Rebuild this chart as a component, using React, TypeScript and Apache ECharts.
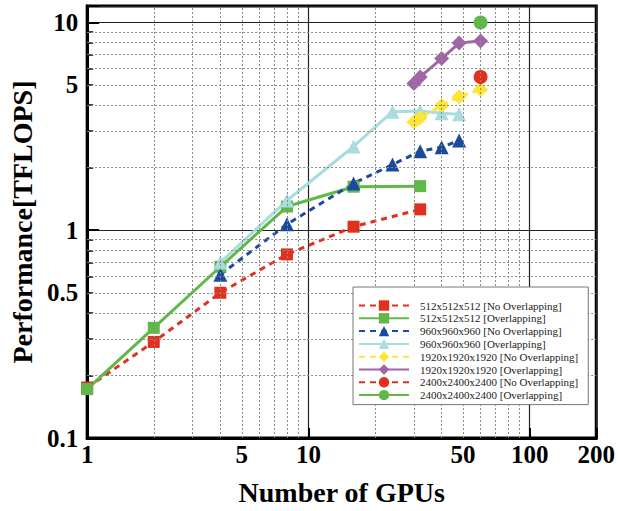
import React, { useEffect, useRef } from "react";
import * as echarts from "echarts";

const xTickLabels = [1, 5, 10, 50, 100, 200];
const yTickLabels = [0.1, 0.5, 1, 5, 10];
const xMinorGrid = [2, 3, 4, 5, 6, 7, 8, 9, 20, 30, 40, 50, 60, 70, 80, 90];
const yMinorGrid = [0.2, 0.3, 0.4, 0.5, 0.6, 0.7, 0.8, 0.9, 2, 3, 4, 5, 6, 7, 8, 9];

const gpus512 = [1, 2, 4, 8, 16, 32];
const no512 = [0.175, 0.29, 0.5, 0.765, 1.04, 1.26];
const over512 = [0.172, 0.339, 0.667, 1.3, 1.62, 1.63];

const gpus960 = [4, 8, 16, 24, 32, 40, 48];
const no960 = [0.611, 1.068, 1.68, 2.07, 2.4, 2.51, 2.7];
const over960 = [0.7, 1.39, 2.53, 3.72, 3.75, 3.66, 3.62];

const gpus1920 = [30, 32, 40, 48, 60];
const no1920 = [3.32, 3.48, 3.98, 4.39, 4.76];
const over1920 = [5.09, 5.47, 6.7, 7.96, 8.14];

const gpus2400 = [60];
const no2400 = [5.47];
const over2400 = [10.0];

const names = [
  "512x512x512 [No Overlapping]",
  "512x512x512 [Overlapping]",
  "960x960x960 [No Overlapping]",
  "960x960x960 [Overlapping]",
  "1920x1920x1920 [No Overlapping]",
  "1920x1920x1920 [Overlapping]",
  "2400x2400x2400 [No Overlapping]",
  "2400x2400x2400 [Overlapping]",
];

const RED = "#e2301f";
const GREEN = "#5fb847";
const BLUE = "#1a4a9f";
const CYAN = "#a9dcdc";
const YELLOW = "#fde633";
const PURPLE = "#a065a7";

const zip = (xs: number[], ys: number[]) => xs.map((x, i) => [x, ys[i]]);

const SERIF = "'Liberation Serif', 'Times New Roman', serif";

function mkSeries(name: string, xs: number[], ys: number[], color: string, dashed: boolean, symbol: string, size: number) {
  return {
    name,
    type: "line",
    data: zip(xs, ys),
    symbol,
    symbolSize: size,
    z: 3,
    itemStyle: { color },
    lineStyle: { color, width: 3, type: dashed ? [6, 5] : "solid" },
  };
}

export default function App() {
  const ref = useRef<HTMLDivElement>(null);
  useEffect(() => {
    if (!ref.current) return;
    const chart = echarts.init(ref.current, null, { renderer: "svg" });
    const minorStyle = { color: "#8a8a8a", width: 1, type: [2, 2] };
    chart.setOption({
      animation: false,
      backgroundColor: "#ffffff",
      grid: {
        left: 83,
        right: 17,
        top: 6,
        bottom: 71,
        show: true,
        borderColor: "#000",
        borderWidth: 3,
        backgroundColor: "transparent",
      },
      legend: {
        orient: "vertical",
        left: 353,
        top: 287,
        data: names,
        itemWidth: 50,
        itemHeight: 13,
        itemGap: 1.8,
        backgroundColor: "#fff",
        borderColor: "#777",
        borderWidth: 1,
        borderRadius: 0,
        padding: [13, 10, 4, 5],
        textStyle: { fontFamily: SERIF, fontSize: 11, color: "#222", padding: [0, 0, 0, 6] },
        z: 10,
      },
      xAxis: {
        type: "log",
        logBase: 10,
        min: 1,
        max: 200,
        name: "Number of GPUs",
        nameLocation: "middle",
        nameGap: 40,
        nameTextStyle: { fontFamily: SERIF, fontSize: 28, fontWeight: "bold", color: "#000" },
        axisLine: { show: true, lineStyle: { color: "#000", width: 3 } },
        axisTick: { show: true, inside: true, length: 10, lineStyle: { color: "#000", width: 2 } },
        axisLabel: {
          customValues: xTickLabels,
          formatter: (v: number) => String(Math.round(v * 100) / 100),
          fontFamily: SERIF,
          fontSize: 25,
          fontWeight: "bold",
          color: "#000",
          margin: 4,
        },
        splitLine: { show: true, lineStyle: { color: "#222", width: 1.2 } },
      },
      yAxis: [
        {
          type: "log",
          logBase: 10,
          min: 0.1,
          max: 12,
          name: "Performance[TFLOPS]",
          nameLocation: "middle",
          nameGap: 48,
          nameTextStyle: { fontFamily: SERIF, fontSize: 28, fontWeight: "bold", color: "#000" },
          axisLine: { show: true, lineStyle: { color: "#000", width: 3 } },
          axisTick: { show: true, inside: true, length: 12, lineStyle: { color: "#000", width: 2 } },
          axisLabel: {
            customValues: yTickLabels,
            formatter: (v: number) => String(Math.round(v * 100) / 100),
            fontFamily: SERIF,
            fontSize: 25,
            fontWeight: "bold",
            color: "#000",
            margin: 9,
          },
          splitLine: { show: true, lineStyle: { color: "#222", width: 1.2 } },
        },
        {
          type: "log",
          logBase: 10,
          min: 0.1,
          max: 12,
          position: "left",
          axisLine: { show: false },
          axisTick: {
            show: true,
            inside: true,
            length: 6,
            customValues: yMinorGrid,
            lineStyle: { color: "#000", width: 1.5 },
          },
          axisLabel: { show: false },
          splitLine: { show: false },
        },
      ],
      series: [
        {
          name: "grid-minor",
          type: "line",
          data: [],
          silent: true,
          z: 1,
          markLine: {
            silent: true,
            symbol: ["none", "none"],
            label: { show: false },
            lineStyle: minorStyle,
            emphasis: { disabled: true },
            data: [
              ...xMinorGrid.map((v) => ({ xAxis: v })),
              ...yMinorGrid.map((v) => ({ yAxis: v })),
            ],
          },
        },
        mkSeries(names[0], gpus512, no512, RED, true, "rect", 12),
        mkSeries(names[1], gpus512, over512, GREEN, false, "rect", 12),
        mkSeries(names[2], gpus960, no960, BLUE, true, "triangle", 14),
        mkSeries(names[3], gpus960, over960, CYAN, false, "triangle", 14),
        mkSeries(names[4], gpus1920, no1920, YELLOW, true, "diamond", 15),
        mkSeries(names[5], gpus1920, over1920, PURPLE, false, "diamond", 15),
        mkSeries(names[6], gpus2400, no2400, RED, true, "circle", 14),
        mkSeries(names[7], gpus2400, over2400, GREEN, false, "circle", 14),
      ],
    });
    return () => chart.dispose();
  }, []);
  return (
    <div
      ref={ref}
      style={{ position: "fixed", left: 0, top: 0, width: 618, height: 511 }}
    />
  );
}
